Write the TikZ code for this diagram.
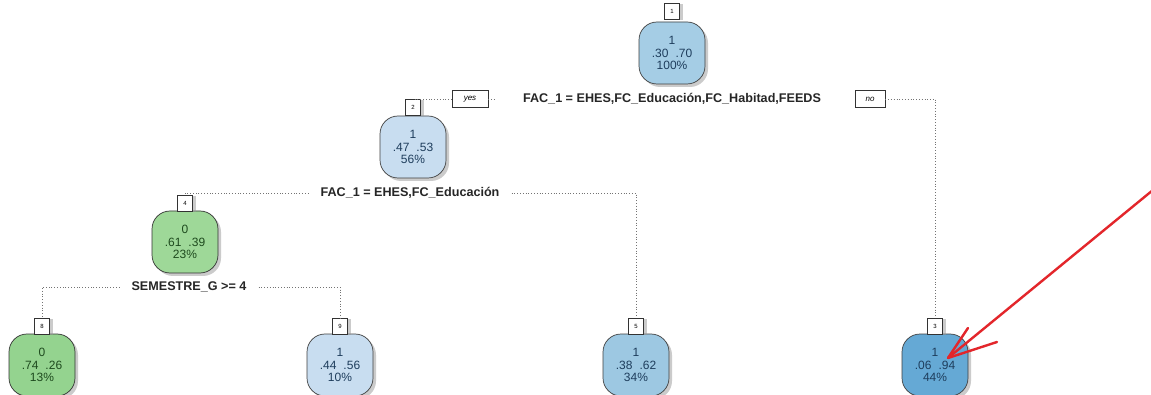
\documentclass[tikz,border=0pt]{standalone}
\usepackage{fontspec}
\setmainfont{Liberation Sans}
\usetikzlibrary{shadows,calc}
\definecolor{bA}{HTML}{A5CDE5}
\definecolor{bB}{HTML}{C8DDF0}
\definecolor{bC}{HTML}{9DC8E2}
\definecolor{bD}{HTML}{65A9D5}
\definecolor{gA}{HTML}{9ED898}
\definecolor{gB}{HTML}{94D38F}
\definecolor{tB}{HTML}{1E3D5C}
\definecolor{tG}{HTML}{1E4A1E}
\definecolor{arr}{HTML}{E3262B}
\tikzset{
  body/.style={draw=black!75, line width=0.7pt, rounded corners=18pt,
    minimum width=66pt, minimum height=62pt, inner sep=0pt, align=center,
    font=\fontsize{12}{12.5}\selectfont,
    drop shadow={shadow xshift=3pt, shadow yshift=-3pt, fill=black!40, opacity=0.5}},
  bluebody/.style={body, text=tB},
  greenbody/.style={body, text=tG, draw=black!80},
  lab/.style={draw=black!80, line width=0.6pt, fill=white, minimum width=15pt,
    minimum height=16pt, inner sep=0pt, font=\fontsize{6}{6}\selectfont,
    drop shadow={shadow xshift=3pt, shadow yshift=-1pt, fill=black!40, opacity=0.5}},
  conn/.style={draw=black!55, dotted, line width=0.8pt},
  splitlab/.style={font=\bfseries\fontsize{12.6}{14}\selectfont, text=black!85, inner ysep=2pt, inner xsep=12pt},
  yn/.style={draw=black!80, line width=0.6pt, fill=white, inner sep=0pt, minimum height=17pt,
    font=\itshape\fontsize{8}{8}\selectfont},
  redarrow/.style={draw=arr, line width=2.4pt, line cap=round}
}
\begin{document}
\begin{tikzpicture}[x=1pt,y=-1pt]
\useasboundingbox (0,0) rectangle (1151,395);
\fill[white] (0,0) rectangle (1151,395);

% nodes
\node[bluebody, fill=bA] (n1) at (672,53) {1\\.30\hspace{7pt}.70\\100\%};
\node[lab] (l1) at (672,11) {1};
\node[bluebody, fill=bB] (n2) at (413,147) {1\\.47\hspace{7pt}.53\\56\%};
\node[lab] (l2) at (413,107) {2};
\node[greenbody, fill=gA] (n4) at (185,242) {0\\.61\hspace{7pt}.39\\23\%};
\node[lab] (l4) at (185,203) {4};
\node[greenbody, fill=gB] (n8) at (42,365) {0\\.74\hspace{7pt}.26\\13\%};
\node[lab] (l8) at (42,326) {8};
\node[bluebody, fill=bB] (n9) at (340,365) {1\\.44\hspace{7pt}.56\\10\%};
\node[lab] (l9) at (340,326) {9};
\node[bluebody, fill=bC] (n5) at (636,365) {1\\.38\hspace{7pt}.62\\34\%};
\node[lab] (l5) at (636,326) {5};
\node[bluebody, fill=bD] (n3) at (935,365) {1\\.06\hspace{7pt}.94\\44\%};
\node[lab] (l3) at (935,326) {3};

% split labels
\node[splitlab] (s1) at (672,99) {FAC\_1 = EHES,FC\_Educación,FC\_Habitad,FEEDS};
\node[yn, minimum width=36pt] (yes) at (470,99) {yes};
\node[yn, minimum width=30pt] (no) at (870,99) {no};
\node[splitlab] (s2) at (410,193) {FAC\_1 = EHES,FC\_Educación};
\node[splitlab] (s3) at (189,287) {SEMESTRE\_G >= 4};

% connectors
\draw[conn] (yes.west) -| (l2.north);
\draw[conn] (yes.east) -- ++(8,0);
\draw[conn] (no.east) -| (l3.north);
\draw[conn] (s2.west) -| (l4.north);
\draw[conn] (s2.east) -| (l5.north);
\draw[conn] (s3.west) -| (l8.north);
\draw[conn] (s3.east) -| (l9.north);

% red annotation arrow
\coordinate (astart) at (1153,190);
\coordinate (atip) at (948,358);
\coordinate (ha) at (968,328);
\coordinate (hb) at (997,342);
\draw[redarrow] (astart) -- (atip);
\draw[redarrow] (atip) -- (ha);
\draw[redarrow] (atip) -- (hb);
\end{tikzpicture}
\end{document}
